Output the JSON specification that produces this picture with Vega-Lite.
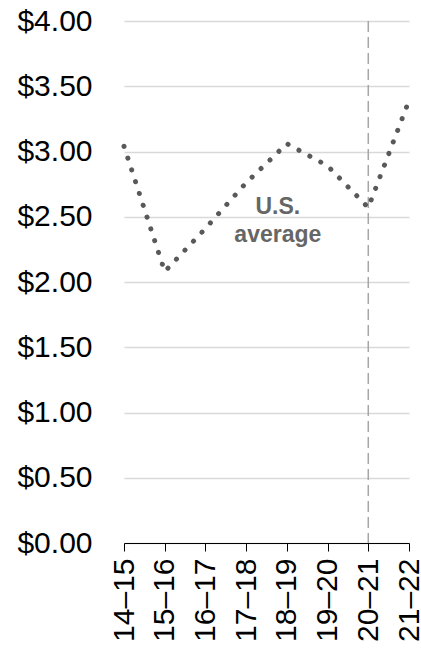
{
  "$schema": "https://vega.github.io/schema/vega-lite/v6.json",
  "width": 285,
  "height": 522,
  "padding": {"left": 124, "top": 21, "right": 12, "bottom": 107},
  "autosize": {"type": "none"},
  "config": {
    "font": "Liberation Sans",
    "view": {"stroke": null},
    "axis": {"labelFont": "Liberation Sans", "labelColor": "#000000", "labelFontSize": 30}
  },
  "datasets": {
    "series": [
      {"period": "14–15", "value": 3.04},
      {"period": "15–16", "value": 2.08},
      {"period": "16–17", "value": 2.41},
      {"period": "17–18", "value": 2.76},
      {"period": "18–19", "value": 3.06},
      {"period": "19–20", "value": 2.89},
      {"period": "20–21", "value": 2.57},
      {"period": "21–22", "value": 3.39}
    ],
    "marker": [{"period": "20–21"}],
    "label": [{"period": "18–19", "value": 2.52, "text": "U.S.\naverage"}]
  },
  "layer": [
    {
      "data": {"name": "marker"},
      "mark": {"type": "rule", "color": "#a6a6a6", "strokeWidth": 1.5, "strokeDash": [11, 5]},
      "encoding": {
        "x": {"field": "period", "type": "ordinal"}
      }
    },
    {
      "data": {"name": "series"},
      "mark": {"type": "line", "color": "#595959", "strokeWidth": 5, "strokeCap": "round", "strokeDash": [0.1, 12.3]},
      "encoding": {
        "x": {
          "field": "period", "type": "ordinal",
          "scale": {"type": "point", "padding": 0},
          "axis": {"title": null, "labelAngle": -90, "domainColor": "#000000", "tickColor": "#000000", "tickSize": 8, "labelPadding": 7, "grid": false}
        },
        "y": {
          "field": "value", "type": "quantitative",
          "scale": {"domain": [0, 4]},
          "axis": {"title": null, "format": "$.2f", "values": [0, 0.5, 1, 1.5, 2, 2.5, 3, 3.5, 4], "domain": false, "ticks": false, "labelPadding": 32, "gridColor": "#d9d9d9", "gridWidth": 1.5}
        }
      }
    },
    {
      "data": {"name": "label"},
      "mark": {"type": "text", "fontSize": 23, "fontWeight": "bold", "color": "#666666", "lineBreak": "\n", "lineHeight": 28, "dx": -9, "baseline": "alphabetic", "align": "center"},
      "encoding": {
        "x": {"field": "period", "type": "ordinal"},
        "y": {"field": "value", "type": "quantitative"},
        "text": {"field": "text"}
      }
    }
  ]
}
